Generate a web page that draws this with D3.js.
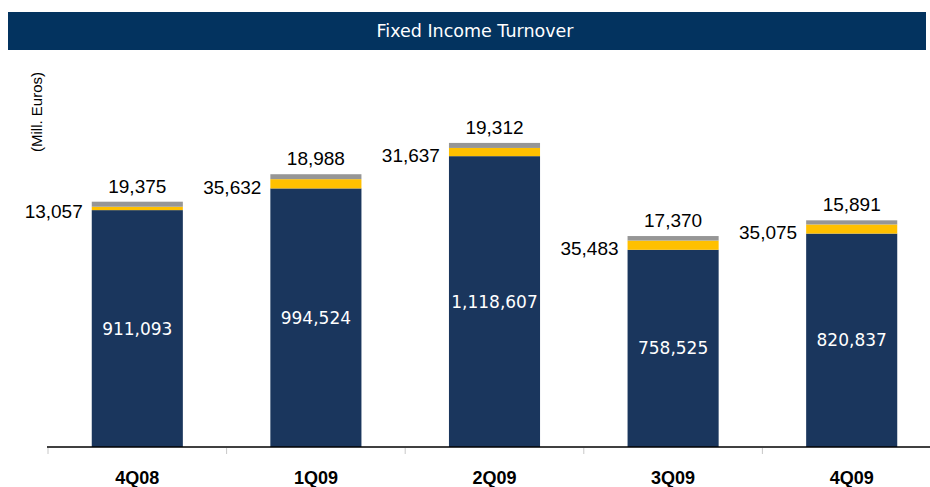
<!DOCTYPE html>
<html>
<head>
<meta charset="utf-8">
<script src="https://cdn.jsdelivr.net/npm/d3@7/dist/d3.min.js"></script>
<style>
  html, body { margin: 0; padding: 0; background: #fff; }
  svg { display: block; }
</style>
</head>
<body>
<svg id="chart" width="930" height="487"></svg>
<script>
// Quarterly fixed income turnover, millions of euros
const quarters = ["4Q08", "1Q09", "2Q09", "3Q09", "4Q09"];
const mainSegment = [911093, 994524, 1118607, 758525, 820837];
const middleSegment = [13057, 35632, 31637, 35483, 35075];
const topSegment = [19375, 18988, 19312, 17370, 15891];
const yTicks = [0, 200000, 400000, 600000, 800000, 1000000, 1200000];

const svg = d3.select("#chart");
const baseY = 447;

const fmt = d3.format(",");

// Title band
svg.append("rect")
  .attr("x", 8).attr("y", 12).attr("width", 918).attr("height", 38)
  .attr("fill", "#03335f");
svg.append("text")
  .attr("x", 475).attr("y", 37)
  .attr("text-anchor", "middle")
  .attr("fill", "#ffffff")
  .style("font-family", "'DejaVu Sans', Tahoma, sans-serif")
  .style("font-size", "17.5px")
  .text("Fixed Income Turnover");

// Unit label
svg.append("text")
  .attr("transform", "translate(42,112) rotate(-90)")
  .attr("text-anchor", "middle")
  .style("font-family", "'Liberation Sans', Arial, sans-serif")
  .style("font-size", "15px")
  .attr("fill", "#000")
  .text("(Mill. Euros)");

const x = d3.scaleBand().domain(quarters).range([48, 941]).padding(0);
const y = d3.scaleLinear().domain([0, yTicks[yTicks.length - 1]]).range([baseY, 135]);
const barW = x.bandwidth() * 0.51;

const rows = quarters.map((q, i) => {
  const m = mainSegment[i], mid = middleSegment[i], t = topSegment[i];
  return { q, m, mid, t, s1: m, s2: m + mid, s3: m + mid + t };
});

const g = svg.append("g");
const bx = d => x(d.q) + (x.bandwidth() - barW) / 2;

// Stacked segments
g.selectAll("rect.main").data(rows).join("rect")
  .attr("class", "main")
  .attr("x", bx).attr("width", barW)
  .attr("y", d => y(d.s1)).attr("height", d => y(0) - y(d.s1))
  .attr("fill", "#1a365d");
g.selectAll("rect.mid").data(rows).join("rect")
  .attr("class", "mid")
  .attr("x", bx).attr("width", barW)
  .attr("y", d => y(d.s2)).attr("height", d => y(d.s1) - y(d.s2))
  .attr("fill", "#ffc000");
g.selectAll("rect.top").data(rows).join("rect")
  .attr("class", "top")
  .attr("x", bx).attr("width", barW)
  .attr("y", d => y(d.s3)).attr("height", d => y(d.s2) - y(d.s3))
  .attr("fill", "#969696");

// Value labels
g.selectAll("text.mainLbl").data(rows).join("text")
  .attr("class", "mainLbl")
  .attr("x", d => x(d.q) + x.bandwidth() / 2)
  .attr("y", d => (y(0) + y(d.s1)) / 2 + 6)
  .attr("text-anchor", "middle")
  .attr("fill", "#ffffff")
  .style("font-family", "'DejaVu Sans', Tahoma, sans-serif")
  .style("font-size", "17px")
  .text(d => fmt(d.m));

g.selectAll("text.midLbl").data(rows).join("text")
  .attr("class", "midLbl")
  .attr("x", d => bx(d) - 9)
  .attr("y", d => (y(d.s1) + y(d.s2)) / 2 + 10)
  .attr("text-anchor", "end")
  .attr("fill", "#000")
  .style("font-family", "'Liberation Sans', Arial, sans-serif")
  .style("font-size", "19px")
  .text(d => fmt(d.mid));

g.selectAll("text.topLbl").data(rows).join("text")
  .attr("class", "topLbl")
  .attr("x", d => x(d.q) + x.bandwidth() / 2)
  .attr("y", d => y(d.s3) - 9)
  .attr("text-anchor", "middle")
  .attr("fill", "#000")
  .style("font-family", "'Liberation Sans', Arial, sans-serif")
  .style("font-size", "19px")
  .text(d => fmt(d.t));

// Category axis
const axis = svg.append("g").attr("transform", `translate(0,${baseY})`);
axis.append("line")
  .attr("x1", 47).attr("x2", 930).attr("y1", 0).attr("y2", 0)
  .attr("stroke", "#000").attr("stroke-width", 1.5);
axis.selectAll("line.tick").data(quarters).join("line")
  .attr("class", "tick")
  .attr("x1", d => x(d)).attr("x2", d => x(d))
  .attr("y1", 1).attr("y2", 7)
  .attr("stroke", "#c8c8c8");
axis.selectAll("text.cat").data(quarters).join("text")
  .attr("class", "cat")
  .attr("x", d => x(d) + x.bandwidth() / 2)
  .attr("y", 37)
  .attr("text-anchor", "middle")
  .attr("fill", "#000")
  .style("font-family", "'Liberation Sans', Arial, sans-serif")
  .style("font-weight", "bold")
  .style("font-size", "18px")
  .text(d => d);
</script>
</body>
</html>
